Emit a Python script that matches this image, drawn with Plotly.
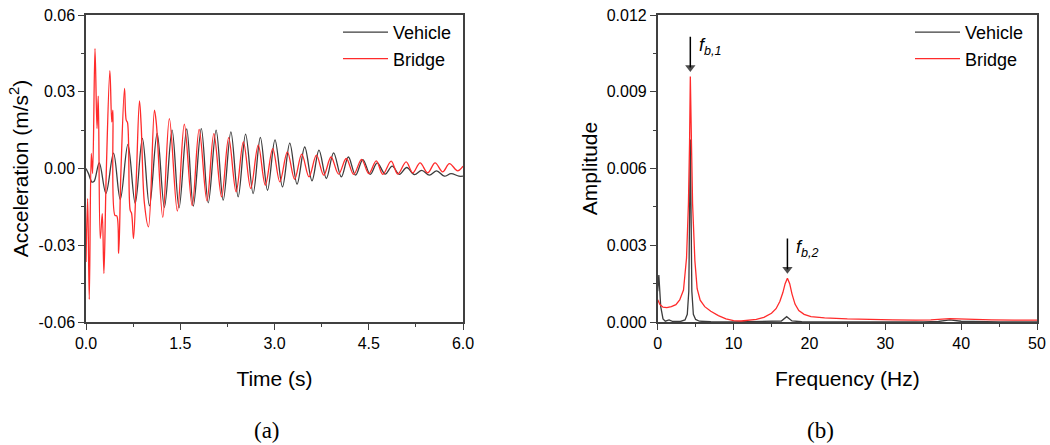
import plotly.graph_objects as go
from plotly.subplots import make_subplots

# ---- time histories: acceleration extrema (s, m/s^2) ----
bridge_t = [0.0, 0.026, 0.052, 0.084, 0.105, 0.143, 0.175, 0.195, 0.227, 0.259,
            0.285, 0.322, 0.38, 0.41, 0.428, 0.46, 0.49, 0.52, 0.555, 0.613,
            0.64, 0.66, 0.703, 0.725, 0.756, 0.80, 0.851, 0.878, 0.93, 0.994,
            1.089, 1.12, 1.222, 1.327, 1.454, 1.565, 1.69, 1.801, 1.925, 2.035,
            2.158, 2.271, 2.389, 2.505, 2.622, 2.741, 2.854, 2.972, 3.085, 3.205,
            3.32, 3.434, 3.55, 3.667, 3.784, 3.9, 4.02, 4.142, 4.26, 4.386,
            4.50, 4.62, 4.724, 4.857, 4.962, 5.095, 5.2, 5.317, 5.438, 5.556,
            5.676, 5.784, 5.914, 6.0]
bridge_a = [-0.0365, -0.0117, -0.0512, 0.0059, -0.002, 0.0469, 0.0156, 0.0283, -0.0274, -0.0176,
            -0.041, -0.002, 0.0382, 0.0182, 0.0228, -0.0183, -0.0185, -0.0332, -0.002, 0.0313,
            0.0189, 0.018, -0.0163, -0.0175, -0.0274, -0.004, 0.0264, 0.0169, -0.0137, -0.0228,
            0.0228, 0.0175, -0.0191, 0.0195, -0.0167, 0.0173, -0.0145, 0.0153, -0.0126, 0.0136,
            -0.0111, 0.0121, -0.0091, 0.0104, -0.0078, 0.0091, -0.0065, 0.0078, -0.0052, 0.0065,
            -0.0042, 0.0056, -0.0033, 0.0052, -0.0026, 0.0045, -0.0022, 0.0039, -0.0023, 0.0036,
            -0.002, 0.003, -0.0023, 0.0029, -0.0022, 0.0026, -0.0017, 0.0022, -0.0017, 0.0022,
            -0.0013, 0.0019, -0.0009, 0.0009]

vehicle_t = [0.0, 0.04, 0.095, 0.13, 0.211, 0.317, 0.438, 0.545, 0.667, 0.783,
             0.898, 1.01, 1.132, 1.248, 1.37, 1.481, 1.603, 1.708, 1.835, 1.946,
             2.071, 2.184, 2.306, 2.422, 2.54, 2.66, 2.775, 2.889, 3.008, 3.127,
             3.243, 3.359, 3.481, 3.597, 3.708, 3.825, 3.941, 4.063, 4.175, 4.29,
             4.406, 4.524, 4.635, 4.762, 4.873, 4.989, 5.105, 5.227, 5.343, 5.465,
             5.581, 5.703, 5.81, 5.935, 6.0]
vehicle_a = [0.0, -0.002, -0.0053, -0.005, 0.0022, -0.0097, 0.006, -0.0121, 0.0094, -0.0137,
             0.0118, -0.0146, 0.0137, -0.0152, 0.015, -0.0154, 0.0155, -0.0147, 0.0156, -0.0134,
             0.015, -0.0124, 0.0143, -0.0111, 0.0134, -0.0098, 0.0122, -0.0085, 0.0112, -0.0072,
             0.0099, -0.0061, 0.0084, -0.0048, 0.0072, -0.0039, 0.0061, -0.0033, 0.0045, -0.0026,
             0.0035, -0.0023, 0.0022, -0.0022, 0.0009, -0.0023, 0.0004, -0.0024, -0.0007, -0.0026,
             -0.0009, -0.003, -0.002, -0.003, -0.003]

# ---- Fourier amplitude spectra (Hz, amplitude) ----
bridge_f = [0, 0.3, 0.7, 1.2, 1.8, 2.4, 2.9, 3.4, 3.8, 4.05, 4.2, 4.3, 4.45, 4.6,
            4.9, 5.2, 5.6, 6.2, 7.0, 8.0, 9.0, 10.0, 11.0, 12.0, 13.0, 14.0, 15.0,
            15.6, 16.1, 16.5, 16.8, 17.1, 17.4, 17.7, 18.1, 18.6, 19.3, 20.2, 22,
            25, 28, 31, 34, 36, 38.5, 41, 44, 47, 50]
bridge_amp = [0.00087, 0.00068, 0.00058, 0.00056, 0.0006, 0.00068, 0.00086, 0.00125, 0.0025,
              0.0046, 0.007, 0.0096, 0.007, 0.0046, 0.0024, 0.0013, 0.00085, 0.0006, 0.00042,
              0.00025, 0.00012, 0.00005, 0.00004, 0.00006, 0.0001, 0.00018, 0.00034, 0.00052,
              0.0008, 0.00115, 0.0015, 0.00171, 0.0015, 0.0011, 0.0007, 0.00045, 0.0003,
              0.00021, 0.00016, 0.00012, 0.00009, 0.00008, 0.00007, 0.00008, 0.00013,
              0.0001, 0.00008, 0.00007, 0.00007]

vehicle_f = [0, 0.15, 0.4, 0.7, 1.0, 1.5, 2.0, 3.0, 3.6, 3.9, 4.1, 4.2, 4.3, 4.42,
             4.5, 4.7, 5.0, 5.5, 7.0, 10.0, 15.0, 16.3, 17.0, 17.7, 19.0, 25.0, 35.0,
             37.0, 38.5, 40.0, 45.0, 50.0]
vehicle_amp = [0.0012, 0.00184, 0.0006, 0.00012, 0.00003, 0.00008, 0.00002, 0.00002, 0.00008,
               0.0003, 0.0012, 0.0036, 0.00713, 0.0036, 0.0012, 0.0003, 0.0001, 0.00003,
               0.00001, 0.0, 0.00001, 0.00004, 0.00021, 0.00004, 0.00001, 0.0, 0.0,
               0.00002, 0.00008, 0.00003, 0.0, 0.0]

# bridge modal peaks that get marked with an arrow: (search band in Hz, label)
mode_marks = [((0, 10), "<i>f</i><sub><i>b,1</i></sub>"),
              ((10, 25), "<i>f</i><sub><i>b,2</i></sub>")]

# ---- tick labels ----
time_ticks = [0.0, 1.5, 3.0, 4.5, 6.0]
time_labels = ["0.0", "1.5", "3.0", "4.5", "6.0"]
acc_ticks = [-0.06, -0.03, 0.0, 0.03, 0.06]
acc_labels = ["-0.06", "-0.03", "0.00", "0.03", "0.06"]
freq_ticks = [0, 10, 20, 30, 40, 50]
freq_labels = ["0", "10", "20", "30", "40", "50"]
amp_ticks = [0.0, 0.003, 0.006, 0.009, 0.012]
amp_labels = ["0.000", "0.003", "0.006", "0.009", "0.012"]

VEH_COLOR = "#3c3c3c"
BRG_COLOR = "#ff2b2b"
AXIS_COLOR = "#404040"
FONT = "Liberation Sans, Arial, sans-serif"

W, H = 1050, 445
ML, MR, MT, MB = 86, 13, 15, 123
PW, PH = W - ML - MR, H - MT - MB


def px(xp):
    return (xp - ML) / PW


def py(yp):
    return (H - MB - yp) / PH


fig = make_subplots(rows=1, cols=2)

fig.add_trace(go.Scatter(x=vehicle_t, y=vehicle_a, name="Vehicle", mode="lines",
                         line=dict(color=VEH_COLOR, width=1.3, shape="spline", smoothing=1.0),
                         legend="legend"), row=1, col=1)
fig.add_trace(go.Scatter(x=bridge_t, y=bridge_a, name="Bridge", mode="lines",
                         line=dict(color=BRG_COLOR, width=1.3, shape="spline", smoothing=1.0),
                         legend="legend"), row=1, col=1)
fig.add_trace(go.Scatter(x=vehicle_f, y=vehicle_amp, name="Vehicle", mode="lines",
                         line=dict(color=VEH_COLOR, width=1.3),
                         legend="legend2"), row=1, col=2)
fig.add_trace(go.Scatter(x=bridge_f, y=bridge_amp, name="Bridge", mode="lines",
                         line=dict(color=BRG_COLOR, width=1.3),
                         legend="legend2"), row=1, col=2)

# downward arrows above the bridge spectral peaks, with their labels
GAP, SHAFT, HEAD = 0.00015, 0.0014, 0.0002
for (lo, hi), lab in mode_marks:
    band = [(a, f) for f, a in zip(bridge_f, bridge_amp) if lo <= f <= hi]
    peak_amp, peak_f = max(band)
    tip = peak_amp + GAP
    fig.add_trace(go.Scatter(
        x=[peak_f, peak_f], y=[tip + SHAFT, tip + HEAD], mode="lines",
        line=dict(color="black", width=1.5),
        showlegend=False, hoverinfo="skip"), row=1, col=2)
    fig.add_trace(go.Scatter(
        x=[peak_f], y=[tip + HEAD], mode="markers",
        marker=dict(symbol="triangle-down", size=[9], color="black",
                    line=dict(width=0)),
        showlegend=False, hoverinfo="skip"), row=1, col=2)
    fig.add_annotation(xref="x2", yref="y2", showarrow=False, xanchor="left", yanchor="middle",
                       x=peak_f + 0.9, y=tip + SHAFT - 0.0004, text=lab,
                       font=dict(family=FONT, size=18, color="black"))

axis_common = dict(
    showgrid=False, zeroline=False, showline=True, mirror=True,
    linecolor=AXIS_COLOR, linewidth=1.5,
    ticks="outside", ticklen=6, tickwidth=1.3, tickcolor=AXIS_COLOR,
    tickfont=dict(family=FONT, size=16, color="black"),
    automargin=False,
)
title_font = dict(family=FONT, size=21, color="black")

fig.update_xaxes(axis_common)
fig.update_yaxes(axis_common)

fig.update_layout(
    xaxis=dict(domain=[0, px(463)], range=[0, 6], tickvals=time_ticks, ticktext=time_labels,
               minor=dict(dtick=0.75, ticks="outside", ticklen=3, tickcolor=AXIS_COLOR, tickwidth=1.2),
               title=dict(text="Time (s)", font=title_font, standoff=20)),
    yaxis=dict(range=[-0.06, 0.06], tickvals=acc_ticks, ticktext=acc_labels,
               minor=dict(dtick=0.015, ticks="outside", ticklen=3, tickcolor=AXIS_COLOR, tickwidth=1.2),
               title=dict(text="Acceleration (m/s<sup>2</sup>)", font=title_font, standoff=4)),
    xaxis2=dict(domain=[px(657.7), 1], range=[0, 50], tickvals=freq_ticks, ticktext=freq_labels,
                minor=dict(dtick=5, ticks="outside", ticklen=3, tickcolor=AXIS_COLOR, tickwidth=1.2),
                title=dict(text="Frequency (Hz)", font=title_font, standoff=20)),
    yaxis2=dict(range=[0, 0.012], tickvals=amp_ticks, ticktext=amp_labels,
                minor=dict(dtick=0.0015, ticks="outside", ticklen=3, tickcolor=AXIS_COLOR, tickwidth=1.2),
                title=dict(text="Amplitude", font=title_font, standoff=3)),
)

legend_common = dict(font=dict(family=FONT, size=18, color="black"), bgcolor="rgba(0,0,0,0)",
                     xanchor="left", yanchor="top", itemwidth=45, tracegroupgap=0)
fig.update_layout(
    legend=dict(legend_common, x=px(338), y=py(14)),
    legend2=dict(legend_common, x=px(910), y=py(14)),
)

# panel captions
caption = dict(xref="paper", yref="paper", showarrow=False, xanchor="center", yanchor="middle",
               font=dict(family="Liberation Serif, Times New Roman, serif", size=23, color="black"))
fig.add_annotation(caption, x=px(267), y=py(430), text="(a)")
fig.add_annotation(caption, x=px(820), y=py(430), text="(b)")

fig.update_layout(
    width=W, height=H,
    margin=dict(l=ML, r=MR, t=MT, b=MB),
    paper_bgcolor="white", plot_bgcolor="white",
)

fig.write_html("out.html")
